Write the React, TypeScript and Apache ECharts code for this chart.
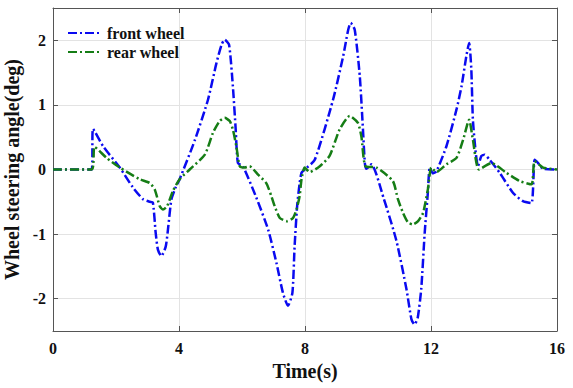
import React, { useEffect, useRef } from "react";
import * as echarts from "echarts";

const xTicks = [0, 4, 8, 12, 16];
const yTicks = [-2, -1, 0, 1, 2];

const frontT = [0, 1.23, 1.27, 1.59, 2.12, 2.54, 2.86, 3.07, 3.17, 3.26, 3.33, 3.44, 3.58, 3.66, 3.76, 3.9, 4.02, 4.5, 4.92, 5.19, 5.35, 5.45, 5.59, 5.71, 5.8, 5.87, 6.03, 6.45, 6.83, 7.09, 7.3, 7.46, 7.6, 7.67, 7.75, 7.83, 7.89, 7.99, 8.31, 8.89, 9.21, 9.37, 9.45, 9.58, 9.74, 9.84, 9.9, 9.95, 10.11, 10.5, 10.9, 11.22, 11.38, 11.48, 11.58, 11.69, 11.8, 11.9, 11.96, 12.06, 12.17, 12.49, 12.81, 12.97, 13.12, 13.21, 13.28, 13.33, 13.42, 13.49, 13.6, 13.7, 13.86, 14.18, 14.6, 14.92, 15.19, 15.29, 15.4, 15.56, 16];
const frontV = [0, 0, 0.63, 0.36, 0.03, -0.28, -0.46, -0.5, -0.51, -0.98, -1.24, -1.34, -1.19, -0.88, -0.46, -0.27, -0.15, 0.45, 1.08, 1.65, 1.93, 2.01, 1.93, 1.29, 0.62, 0.1, 0.05, -0.43, -0.93, -1.44, -1.91, -2.11, -1.91, -1.19, -0.57, -0.21, -0.05, 0.0, 0.15, 1.08, 1.75, 2.16, 2.27, 2.16, 1.44, 0.62, 0.1, 0.01, 0.08, -0.45, -1.1, -1.85, -2.32, -2.4, -2.29, -1.85, -0.98, -0.36, 0.03, -0.06, -0.03, 0.36, 0.93, 1.29, 1.75, 1.96, 1.55, 0.77, 0.26, 0.05, 0.21, 0.23, 0.15, -0.05, -0.36, -0.49, -0.52, 0.15, 0.1, 0.01, 0];

const rearT = [0, 1.23, 1.32, 1.7, 2.12, 2.75, 3.07, 3.23, 3.39, 3.49, 3.62, 3.81, 4.02, 4.34, 4.82, 5.08, 5.29, 5.45, 5.61, 5.71, 5.82, 5.93, 6.09, 6.24, 6.51, 6.77, 6.93, 7.04, 7.2, 7.43, 7.62, 7.73, 7.83, 7.89, 7.99, 8.15, 8.47, 8.78, 9.1, 9.42, 9.68, 9.79, 9.92, 10.27, 10.79, 10.95, 11.11, 11.27, 11.43, 11.59, 11.75, 11.9, 12.01, 12.17, 12.49, 12.81, 13.02, 13.21, 13.33, 13.52, 13.92, 14.39, 14.82, 15.19, 15.29, 15.56, 16];
const rearV = [0, 0, 0.35, 0.18, 0.03, -0.15, -0.21, -0.31, -0.57, -0.62, -0.57, -0.33, -0.15, 0.0, 0.23, 0.57, 0.75, 0.8, 0.75, 0.62, 0.36, 0.05, 0.03, 0.05, -0.08, -0.21, -0.41, -0.57, -0.75, -0.8, -0.75, -0.62, -0.41, -0.15, 0.03, -0.04, 0.05, 0.21, 0.62, 0.83, 0.72, 0.51, 0.05, 0.03, -0.18, -0.46, -0.67, -0.82, -0.85, -0.8, -0.67, -0.31, 0.03, -0.04, 0.08, 0.18, 0.46, 0.77, 0.46, 0.0, 0.1, -0.05, -0.18, -0.23, 0.13, 0.03, 0];

const FONT = "'Liberation Serif', 'Times New Roman', serif";
const AXIS_COLOR = "#555555";
const DASH = [9, 3, 2, 3];

export default function App() {
  const ref = useRef<HTMLDivElement>(null);
  useEffect(() => {
    if (!ref.current) return;
    const chart = echarts.init(ref.current, null, { renderer: "svg" });
    const pair = (t: number[], v: number[]) => t.map((x, i) => [x, v[i]]);
    const fmtY = (v: number) => (yTicks.includes(v) ? String(v) : "");
    const fmtX = (v: number) => (xTicks.includes(v) ? String(v) : "");
    const axisLine = { show: true, onZero: false, lineStyle: { color: AXIS_COLOR, width: 1 } };
    const axisTick = { show: true, inside: true, length: 5, lineStyle: { color: AXIS_COLOR } };
    chart.setOption({
      animation: false,
      backgroundColor: "#ffffff",
      grid: { left: 53, right: 16, top: 8, bottom: 57, containLabel: false, outerBoundsMode: "none" },
      legend: {
        orient: "vertical",
        left: 67,
        top: 25,
        padding: 0,
        itemWidth: 34,
        itemHeight: 14,
        itemGap: 3,
        itemStyle: { opacity: 0 },
        textStyle: { fontFamily: FONT, fontWeight: "bold", fontSize: 16, color: "#111" },
        data: ["front wheel", "rear wheel"],
      },
      xAxis: [
        {
          type: "value",
          min: 0,
          max: 16,
          interval: 4,
          name: "Time(s)",
          nameLocation: "middle",
          nameGap: 29,
          nameTextStyle: { fontFamily: FONT, fontWeight: "bold", fontSize: 20, color: "#111" },
          axisLine,
          axisTick,
          axisLabel: { formatter: fmtX, fontFamily: FONT, fontWeight: "bold", fontSize: 16, color: "#111", margin: 9 },
          splitLine: { show: true, lineStyle: { color: "#e3e3e3", width: 1 } },
        },
        {
          type: "value",
          position: "top",
          min: 0,
          max: 16,
          interval: 4,
          axisLine,
          axisTick,
          axisLabel: { show: false },
          splitLine: { show: false },
        },
      ],
      yAxis: [
        {
          type: "value",
          min: -2.5,
          max: 2.5,
          splitNumber: 5,
          name: "Wheel steering angle(deg)",
          nameLocation: "middle",
          nameGap: 24,
          nameTextStyle: { fontFamily: FONT, fontWeight: "bold", fontSize: 20, color: "#111" },
          axisLine,
          axisTick,
          axisLabel: { formatter: fmtY, fontFamily: FONT, fontWeight: "bold", fontSize: 16, color: "#111", margin: 7 },
          splitLine: { show: true, lineStyle: { color: "#e3e3e3", width: 1 } },
        },
        {
          type: "value",
          position: "right",
          min: -2.5,
          max: 2.5,
          splitNumber: 5,
          axisLine,
          axisTick,
          axisLabel: { show: false },
          splitLine: { show: false },
        },
      ],
      series: [
        {
          name: "front wheel",
          type: "line",
          xAxisIndex: 0,
          yAxisIndex: 0,
          symbol: "none",
          smooth: 0.2,
          data: pair(frontT, frontV),
          itemStyle: { color: "#0a0af0" },
          lineStyle: { color: "#0a0af0", width: 2.5, type: DASH },
        },
        {
          name: "rear wheel",
          type: "line",
          xAxisIndex: 0,
          yAxisIndex: 0,
          symbol: "none",
          smooth: 0.2,
          data: pair(rearT, rearV),
          itemStyle: { color: "#157d15" },
          lineStyle: { color: "#157d15", width: 2.5, type: DASH },
        },
      ],
    });
    return () => chart.dispose();
  }, []);
  return <div ref={ref} style={{ width: 573, height: 388, position: "absolute", left: 0, top: 0 }} />;
}
